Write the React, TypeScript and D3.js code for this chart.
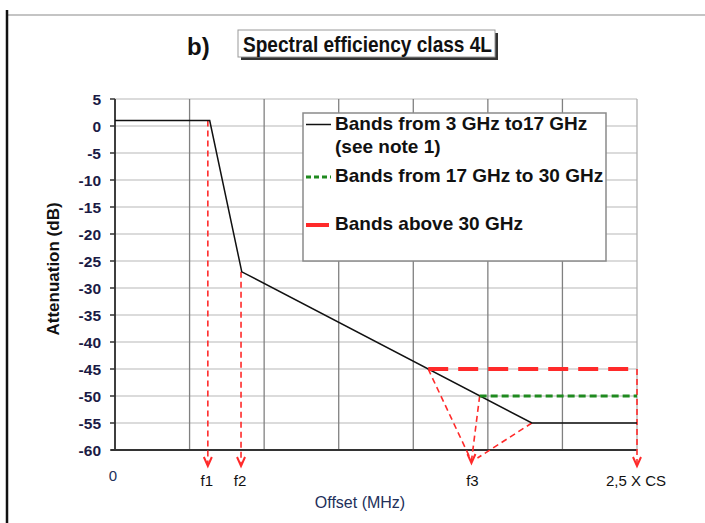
import React from "react";
import * as d3 from "d3";

// ---- data ----
const yTicks = [5, 0, -5, -10, -15, -20, -25, -30, -35, -40, -45, -50, -55, -60];
const xGrid = [0, 1, 2, 3, 4, 5, 6, 7];
const band3to17 = [
  { x: 0, y: 1 },
  { x: 1.27, y: 1 },
  { x: 1.7, y: -27 },
  { x: 5.59, y: -55 },
  { x: 7, y: -55 },
];
const band17to30 = [
  { x: 4.89, y: -50 },
  { x: 7, y: -50 },
];
const bandAbove30 = [
  { x: 4.2, y: -45 },
  { x: 7, y: -45 },
];
const freqMarks = [
  { label: "f1", x: 1.245, fromY: 1 },
  { label: "f2", x: 1.69, fromY: -27 },
  { label: "2,5 X CS", x: 7, fromY: -45 },
];
const f3Mark = { label: "f3", x: 4.78 };
const f3Sources = [
  { x: 4.2, y: -45 },
  { x: 4.89, y: -50 },
  { x: 5.59, y: -55 },
];
const legendItems = [
  { lines: ["Bands from 3 GHz to17 GHz", "(see note 1)"], kind: "black" },
  { lines: ["Bands from 17 GHz to 30 GHz"], kind: "green" },
  { lines: ["Bands above 30 GHz"], kind: "red" },
];

const RED = "#ff2a2a";
const GREEN = "#1f8a1f";
const NAVY = "#1b1b45";

export default function App() {
  const x = d3.scaleLinear().domain([0, 7]).range([115, 637]);
  const y = d3.scaleLinear().domain([5, -60]).range([99, 450]);
  const line = d3
    .line<{ x: number; y: number }>()
    .x((d) => x(d.x))
    .y((d) => y(d.y));
  const arrowTipY = 466;
  const arrow = (tx: number, ty: number) =>
    `M${tx - 4},${ty - 9} L${tx},${ty} L${tx + 4},${ty - 9}`;
  const f3Tip = { x: x(f3Mark.x), y: 463 };

  return (
    <svg
      width={705}
      height={523}
      style={{ position: "absolute", left: 0, top: 0, background: "#fff" }}
      fontFamily="'Liberation Sans', Arial, sans-serif"
    >
      {/* page frame */}
      <line x1={8} x2={705} y1={15} y2={15} stroke="#8a8a8a" strokeWidth={1.2} />
      <line x1={7} x2={7} y1={10} y2={523} stroke="#111" strokeWidth={2.5} />

      {/* title */}
      <text x={187} y={55} fontSize={24} fontWeight="bold" fill="#111">
        b)
      </text>
      <rect x={241} y={33} width={257} height={27} fill="#333" />
      <rect x={238} y={30} width={257} height={27} fill="#fff" stroke="#999" strokeWidth={1} />
      <text
        x={243}
        y={51.5}
        fontSize={22}
        fontWeight="bold"
        fill="#111"
        textLength={249}
        lengthAdjust="spacingAndGlyphs"
        fontFamily="'Liberation Sans Narrow', 'Arial Narrow', 'Liberation Sans', sans-serif"
      >
        Spectral efficiency class 4L
      </text>

      {/* grid */}
      {yTicks.map((t) => (
        <line key={"h" + t} x1={x(0)} x2={x(7)} y1={y(t)} y2={y(t)} stroke="#cfcfcf" strokeWidth={1.6} />
      ))}
      {xGrid.map((g) => (
        <line
          key={"v" + g}
          x1={x(g)}
          x2={x(g)}
          y1={y(5)}
          y2={y(-60)}
          stroke={g === 7 ? "#b0b0b0" : "#808080"}
          strokeWidth={1.3}
        />
      ))}

      {/* axes */}
      <line x1={x(0)} x2={x(0)} y1={y(5)} y2={y(-60)} stroke="#333" strokeWidth={1.8} />
      <line x1={x(0) - 4} x2={x(7)} y1={y(-60)} y2={y(-60)} stroke="#333" strokeWidth={1.8} />
      {yTicks.map((t) => (
        <g key={"t" + t}>
          <line x1={x(0) - 5} x2={x(0)} y1={y(t)} y2={y(t)} stroke="#333" strokeWidth={1.5} />
          <text
            x={101}
            y={y(t)}
            dy="0.36em"
            textAnchor="end"
            fontSize={15.5}
            fontWeight="bold"
            fill={NAVY}
          >
            {t}
          </text>
        </g>
      ))}

      {/* axis titles */}
      <text
        transform={`translate(59,${269}) rotate(-90)`}
        textAnchor="middle"
        fontSize={17}
        fontWeight="bold"
        fill="#111"
      >
        Attenuation (dB)
      </text>
      <text x={360} y={508} textAnchor="middle" fontSize={16} fill="#22305a">
        Offset (MHz)
      </text>
      <text x={113} y={481} textAnchor="middle" fontSize={15} fill="#22305a">
        0
      </text>

      {/* red dashed helper lines with arrows */}
      {freqMarks.map((m) => (
        <g key={m.label}>
          <line
            x1={x(m.x)}
            x2={x(m.x)}
            y1={y(m.fromY)}
            y2={arrowTipY - 2}
            stroke={RED}
            strokeWidth={1.6}
            strokeDasharray="6 4"
          />
          <path d={arrow(x(m.x), arrowTipY)} fill="none" stroke={RED} strokeWidth={2} />
          <text x={x(m.x) - 1} y={486} textAnchor="middle" fontSize={15} fill="#111">
            {m.label}
          </text>
        </g>
      ))}
      {f3Sources.map((s, i) => (
        <line
          key={"f3" + i}
          x1={x(s.x)}
          y1={y(s.y)}
          x2={i === 2 ? f3Tip.x + 6 : f3Tip.x}
          y2={i === 2 ? f3Tip.y - 5 : f3Tip.y - 2}
          stroke={RED}
          strokeWidth={1.6}
          strokeDasharray="6 4"
        />
      ))}
      <path d={arrow(f3Tip.x, f3Tip.y)} fill="none" stroke={RED} strokeWidth={2} />
      <text x={f3Tip.x + 1} y={486} textAnchor="middle" fontSize={15} fill="#111">
        {f3Mark.label}
      </text>

      {/* series */}
      <path d={line(band3to17) ?? ""} fill="none" stroke="#111" strokeWidth={1.5} />
      <path
        d={line(band17to30) ?? ""}
        fill="none"
        stroke={GREEN}
        strokeWidth={3}
        strokeDasharray="7 4"
      />
      <path
        d={line(bandAbove30) ?? ""}
        fill="none"
        stroke={RED}
        strokeWidth={4}
        strokeDasharray="20 10"
      />

      {/* legend */}
      <rect x={303} y={113} width={303} height={148} fill="#fff" stroke="#8a8a8a" strokeWidth={1.5} />
      {legendItems.map((it, i) => {
        const baseY = [129.5, 182, 230][i];
        const sampleY = baseY - 5;
        return (
          <g key={it.kind}>
            {it.kind === "black" && (
              <line x1={306} x2={331} y1={sampleY} y2={sampleY} stroke="#111" strokeWidth={1.5} />
            )}
            {it.kind === "green" && (
              <line
                x1={306}
                x2={331}
                y1={sampleY}
                y2={sampleY}
                stroke={GREEN}
                strokeWidth={3}
                strokeDasharray="5 3"
              />
            )}
            {it.kind === "red" && (
              <line x1={306} x2={329} y1={sampleY} y2={sampleY} stroke={RED} strokeWidth={4} />
            )}
            {it.lines.map((l, j) => (
              <text key={j} x={335} y={baseY + j * 23.5} fontSize={19} fontWeight="bold" fill="#111">
                {l}
              </text>
            ))}
          </g>
        );
      })}
    </svg>
  );
}
